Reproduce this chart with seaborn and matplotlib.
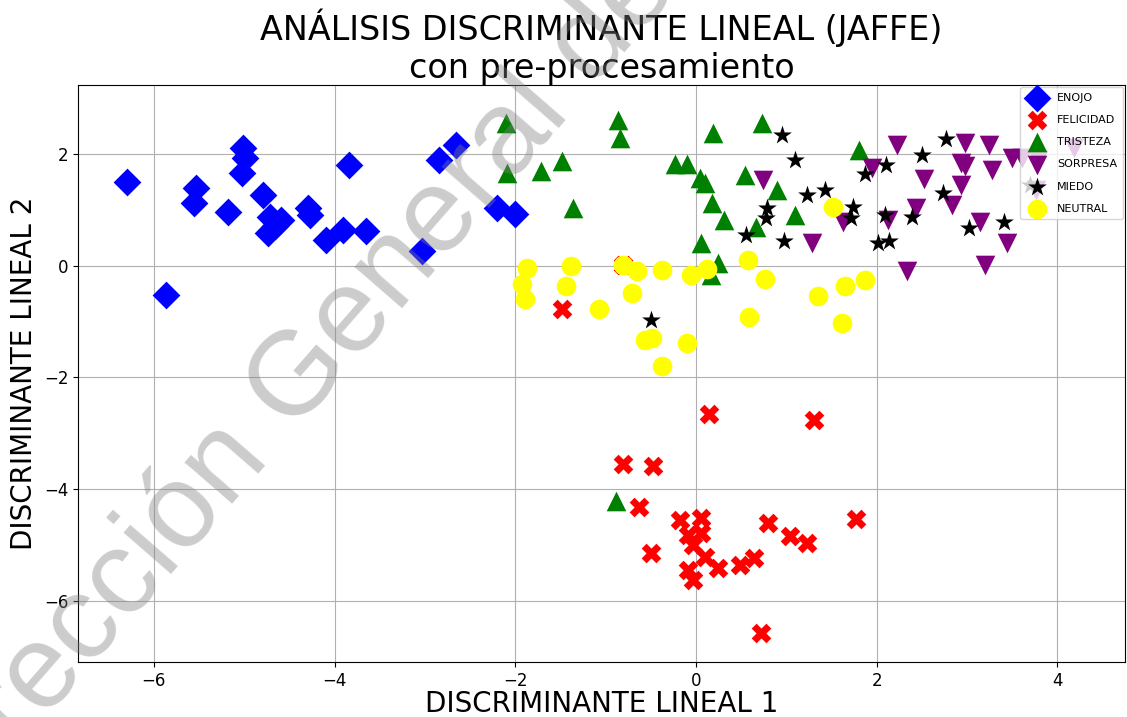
import numpy as np
import pandas as pd
import matplotlib
matplotlib.use("Agg")
import matplotlib.pyplot as plt
import seaborn as sns

# ---- data ----
enojo_x = [-6.30, -5.01, -4.99, -5.02, -5.53, -5.56, -5.18, -4.79, -4.72, -4.59, -4.74,
           -4.66, -4.29, -4.27, -4.09, -3.91, -3.65, -3.84, -2.66, -2.84, -3.03, -2.20,
           -2.00, -5.87]
enojo_y = [1.51, 2.11, 1.93, 1.66, 1.39, 1.12, 0.96, 1.27, 0.88, 0.82, 0.59,
           0.72, 1.03, 0.91, 0.47, 0.65, 0.62, 1.81, 2.17, 1.90, 0.26, 1.03,
           0.93, -0.52]

felicidad_x = [-1.48, 0.14, 1.31, -0.81, -0.47, -0.63, -0.18, 0.06, -0.09, 0.06, -0.03,
               0.10, 0.25, -0.09, -0.03, -0.50, 0.49, 0.64, 0.80, 1.04, 1.23, 1.77,
               0.72, -0.81]
felicidad_y = [-0.78, -2.65, -2.77, -3.55, -3.58, -4.32, -4.55, -4.52, -4.82, -4.79, -5.00,
               -5.21, -5.42, -5.45, -5.63, -5.15, -5.36, -5.24, -4.61, -4.84, -4.97, -4.53,
               -6.58, 0.02]

tristeza_x = [-2.10, -2.09, -1.71, -1.48, -1.36, -0.86, -0.84, -0.23, -0.10, 0.04, 0.10,
              0.18, 0.31, 0.06, 0.25, 0.17, 0.19, 0.73, 0.54, 0.90, 1.10, 0.66, 1.80, -0.89]
tristeza_y = [2.56, 1.66, 1.69, 1.87, 1.03, 2.62, 2.29, 1.83, 1.83, 1.57, 1.48,
              1.12, 0.82, 0.41, 0.05, -0.16, 2.38, 2.56, 1.62, 1.36, 0.91, 0.70, 2.08, -4.22]

sorpresa_x = [0.74, 1.28, 2.23, 2.98, 3.24, 3.50, 3.61, 2.94, 2.98, 3.28, 2.52, 2.93,
              2.84, 2.44, 1.95, 1.63, 2.13, 3.14, 3.44, 3.20, 2.34, 3.79, 4.18, 3.77]
sorpresa_y = [1.54, 0.41, 2.17, 2.20, 2.17, 1.93, 1.93, 1.84, 1.78, 1.71, 1.55, 1.45,
              1.09, 1.03, 1.75, 0.79, 0.82, 0.79, 0.41, 0.02, -0.10, 1.90, 2.11, 1.36]

miedo_x = [0.95, 1.10, 1.23, 1.43, 0.79, 0.78, 0.56, 0.98, -0.50, 2.77, 2.50, 2.10,
           1.87, 1.74, 1.72, 2.09, 2.39, 2.73, 2.02, 2.14, 3.02, 3.41, 3.70]
miedo_y = [2.35, 1.89, 1.27, 1.36, 1.03, 0.85, 0.56, 0.44, -0.98, 2.27, 1.98, 1.81,
           1.65, 1.06, 0.85, 0.91, 0.88, 1.30, 0.41, 0.44, 0.68, 0.79, 1.45]

neutral_x = [-1.87, -1.93, -1.89, -1.38, -1.44, -1.07, -0.81, -0.65, -0.71, -0.37, -0.05,
             0.12, 0.58, 0.77, 1.35, 1.52, 0.59, 1.62, -0.56, -0.49, -0.10, -0.37, 1.65, 1.87]
neutral_y = [-0.04, -0.32, -0.59, 0.00, -0.37, -0.78, 0.02, -0.10, -0.49, -0.07, -0.16,
             -0.06, 0.11, -0.23, -0.54, 1.06, -0.92, -1.02, -1.33, -1.30, -1.39, -1.80, -0.37, -0.25]

labels = ["ENOJO", "FELICIDAD", "TRISTEZA", "SORPRESA", "MIEDO", "NEUTRAL"]
xs = [enojo_x, felicidad_x, tristeza_x, sorpresa_x, miedo_x, neutral_x]
ys = [enojo_y, felicidad_y, tristeza_y, sorpresa_y, miedo_y, neutral_y]
colors = ["blue", "red", "green", "purple", "black", "yellow"]
markers = ["D", "X", "^", "v", "*", "o"]

x_ticks = [-6, -4, -2, 0, 2, 4]
y_ticks = [-6, -4, -2, 0, 2]

title_text = "ANÁLISIS DISCRIMINANTE LINEAL (JAFFE)\ncon pre-procesamiento"
xlabel_text = "DISCRIMINANTE LINEAL 1"
ylabel_text = "DISCRIMINANTE LINEAL 2"
watermark_text = "Dirección General de Bibliotecas"

# ---- figure ----
fig = plt.figure(figsize=(11.27, 7.17), dpi=100)
ax = fig.add_axes([78/1127, 1 - 662/717, (1125 - 78)/1127, (662 - 85)/717])

for lab, x, y, c, m in zip(labels, xs, ys, colors, markers):
    df = pd.DataFrame({"x": x, "y": y})
    sns.scatterplot(data=df, x="x", y="y", ax=ax, color=c, marker=m, s=200,
                    linewidth=0, label=lab, zorder=3)

ax.set_xlim(-6.84, 4.75)
ax.set_ylim(-7.10, 3.24)
ax.set_xticks(x_ticks)
ax.set_yticks(y_ticks)
ax.tick_params(labelsize=12)
ax.grid(True, color="#b0b0b0", linewidth=0.8, zorder=0)
ax.set_axisbelow(True)
ax.set_xlabel(xlabel_text, fontsize=20, labelpad=0.5)
ax.set_ylabel(ylabel_text, fontsize=20, labelpad=4)
ax.set_title(title_text, fontsize=24, pad=4)
for sp in ax.spines.values():
    sp.set_color("black")

ax.legend(loc="upper right", fontsize=8, borderaxespad=0.2, labelspacing=1.1,
          handletextpad=0.8, borderpad=0.5, framealpha=0.8)

fig.text(0.435, 0.775, watermark_text, fontsize=86, family="Liberation Sans",
         color="#808080", alpha=0.4, rotation=49, rotation_mode="anchor",
         ha="center", va="center", zorder=10)

fig.savefig("out.png", dpi=100)
